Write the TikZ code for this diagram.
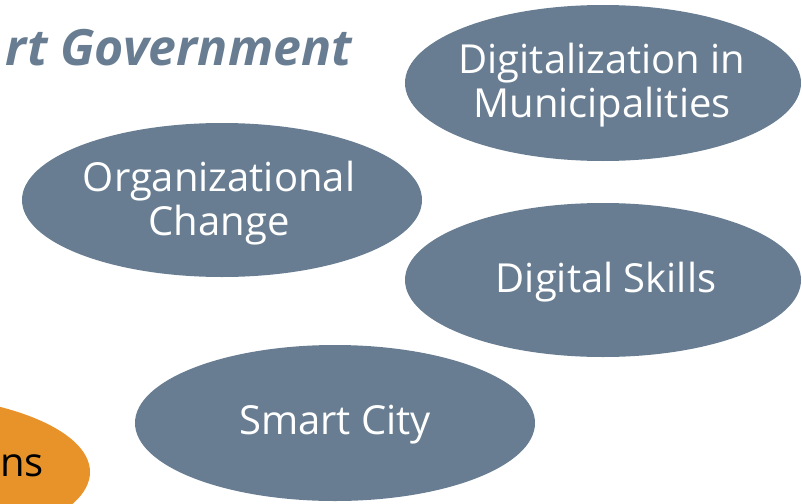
\documentclass[tikz,border=0pt]{standalone}
\usepackage{fontspec}
\setmainfont{Open Sans}
\definecolor{slate}{HTML}{687D91}
\definecolor{amber}{HTML}{E8922A}
\begin{document}
\begin{tikzpicture}[x=1pt,y=-1pt,
  txt/.style={font=\fontsize{40}{44}\selectfont, text=white, align=center, inner sep=0pt},
]
\useasboundingbox (0,0) rectangle (802,503);
\clip (0,0) rectangle (802,503);
% ellipses
\fill[slate] (603,83) ellipse [x radius=198, y radius=78];
\fill[slate] (222,200) ellipse [x radius=200, y radius=77];
\fill[slate] (603,280) ellipse [x radius=198, y radius=77];
\fill[slate] (335,423) ellipse [x radius=200, y radius=78];
\fill[amber] (-110,472) ellipse [x radius=200, y radius=78];
% labels
\node[txt] (dig) at (602,85) {Digitalization in\\Municipalities};
\node[txt] (org) at (219,203) {Organizational\\Change};
\node[txt] (skl) at (606,282) {Digital Skills};
\node[txt] (smc) at (335,425) {Smart City};
\node[txt, text=black, anchor=west] (ns) at (0,466) {ns};
\node[font=\fontsize{50}{54}\selectfont\bfseries\itshape, text=slate, anchor=east, inner sep=0pt] (ttl) at (352,48) {rt Government};
\end{tikzpicture}
\end{document}
